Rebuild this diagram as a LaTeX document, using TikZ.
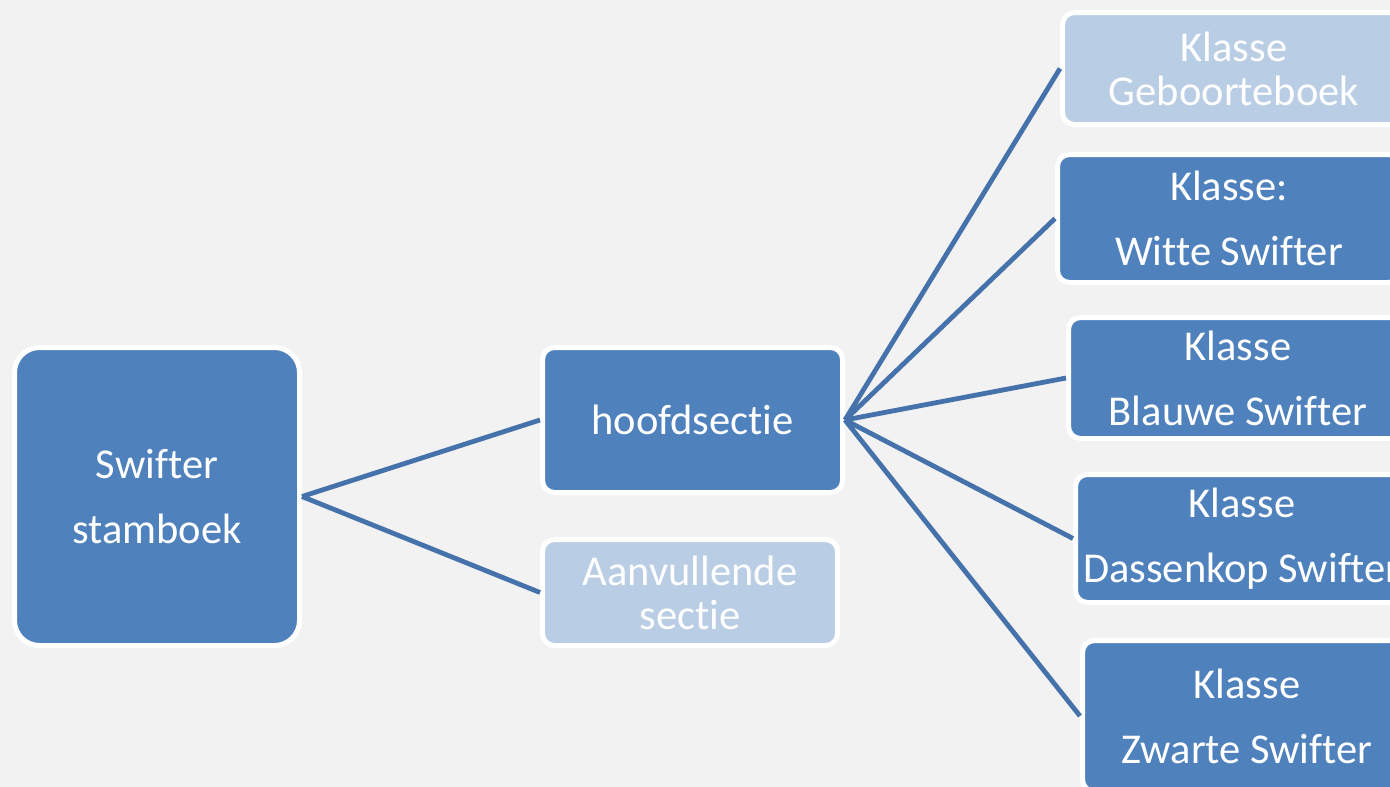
\documentclass[tikz,border=0pt]{standalone}
\usepackage{fontspec}
\setmainfont[Ligatures={NoCommon}]{Carlito}
\definecolor{bg}{HTML}{F2F2F2}
\definecolor{dark}{HTML}{4F81BD}
\definecolor{light}{HTML}{B9CDE5}
\definecolor{conn}{HTML}{4672AC}
\tikzset{
  box/.style={draw=white, line width=5pt, rounded corners=#1, text=white, align=center,
    font=\fontsize{42.5}{44}\selectfont, inner sep=0pt},
  darkbox/.style={box=#1, fill=dark},
  lightbox/.style={box=#1, fill=light},
  conline/.style={draw=conn, line width=4.8pt}
}
\begin{document}
\begin{tikzpicture}[x=1pt,y=-1pt]
\useasboundingbox (0,0) rectangle (1390,787);
\clip (0,0) rectangle (1390,787);
\fill[bg] (0,0) rectangle (1390,787);
\node[darkbox=25pt, minimum width=285pt, minimum height=298pt] (root) at (157,496.5) {Swifter\\[21pt]stamboek};
\node[darkbox=12pt, minimum width=300pt, minimum height=145pt] (hoofd) at (692.5,420) {hoofdsectie};
\node[lightbox=12pt, minimum width=295pt, minimum height=106pt] (aanv) at (690,592.5) {Aanvullende\\sectie};
\node[lightbox=12pt, minimum width=343pt, minimum height=112pt] (geb) at (1234,68.5) {Klasse\\Geboorteboek};
\node[darkbox=12pt, minimum width=343pt, minimum height=128pt] (witte) at (1229,218.5) {Klasse:\\[21pt]Witte Swifter};
\node[darkbox=12pt, minimum width=339pt, minimum height=121pt] (blauwe) at (1238,378) {Klasse\\[21pt]Blauwe Swifter};
\node[darkbox=12pt, minimum width=333pt, minimum height=128pt] (dassen) at (1242,538.5) {Klasse\\[21pt]Dassenkop Swifter};
\node[darkbox=12pt, minimum width=329pt, minimum height=151pt] (zwarte) at (1247,716) {Klasse\\[21pt]Zwarte Swifter};
\draw[conline] (root.east) -- (hoofd.west);
\draw[conline] (root.east) -- (aanv.west);
\draw[conline] (hoofd.east) -- (geb.west);
\draw[conline] (hoofd.east) -- (witte.west);
\draw[conline] (hoofd.east) -- (blauwe.west);
\draw[conline] (hoofd.east) -- (dassen.west);
\draw[conline] (hoofd.east) -- (zwarte.west);
\end{tikzpicture}
\end{document}
